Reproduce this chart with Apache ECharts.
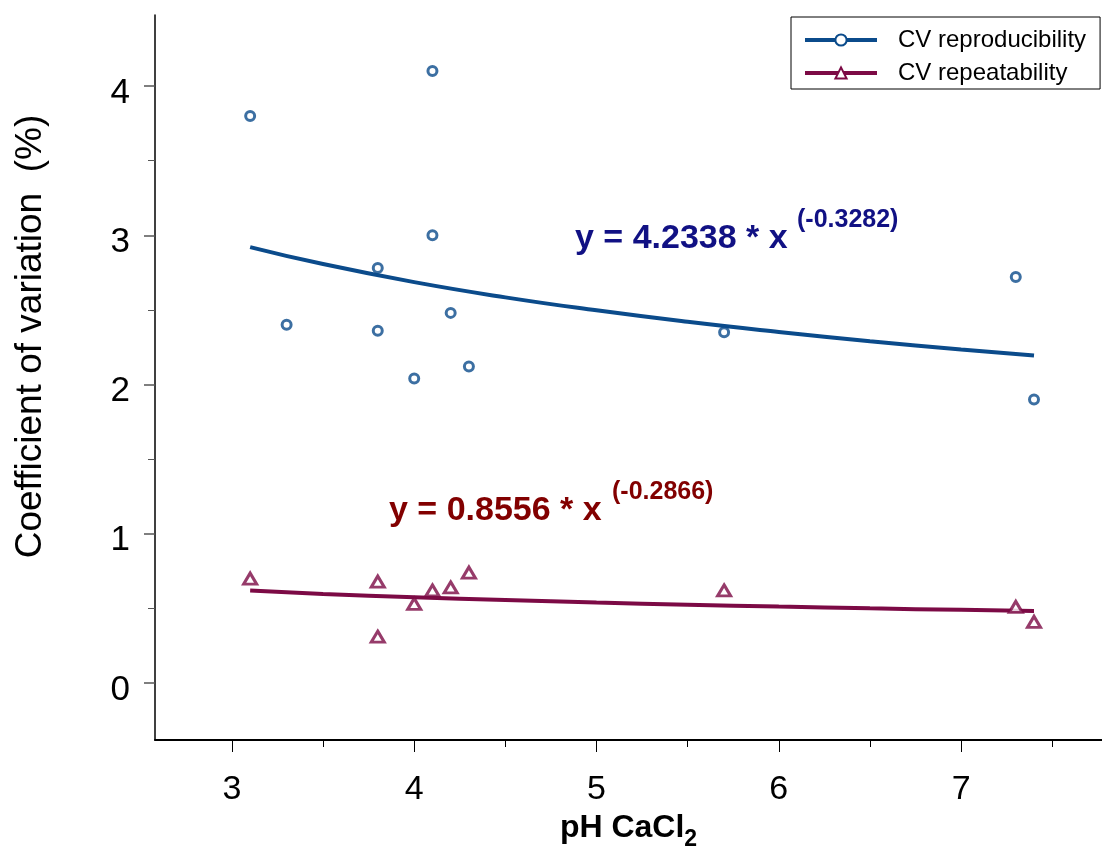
<!DOCTYPE html>
<html><head><meta charset="utf-8">
<script src="https://cdn.jsdelivr.net/npm/echarts@6/dist/echarts.min.js"></script>
<style>html,body{margin:0;padding:0;background:#fff;overflow:hidden}#c{width:1102px;height:849px}</style>
</head><body><div id="c"></div>
<script>
// Data
const phRepro = [3.1, 3.3, 3.8, 3.8, 4.0, 4.1, 4.1, 4.2, 4.3, 5.7, 7.3, 7.4];
const cvRepro = [3.80, 2.40, 2.78, 2.36, 2.04, 4.10, 3.00, 2.48, 2.12, 2.35, 2.72, 1.90];
const phRepeat = [3.1, 3.8, 3.8, 4.0, 4.1, 4.2, 4.3, 5.7, 7.3, 7.4];
const cvRepeat = [0.70, 0.68, 0.31, 0.53, 0.62, 0.64, 0.74, 0.62, 0.51, 0.41];
// fitted power curves (as drawn)
const fitX = [3.1, 3.5, 4.0, 4.5, 5.0, 5.5, 6.0, 6.5, 7.0, 7.4];
const fitRepro = [2.921, 2.807, 2.686, 2.584, 2.497, 2.420, 2.352, 2.290, 2.235, 2.195];
const fitRepeat = [0.619, 0.597, 0.575, 0.556, 0.539, 0.525, 0.512, 0.500, 0.490, 0.482];
const xMajor = [3, 4, 5, 6, 7];
const xMinor = [3.5, 4.5, 5.5, 6.5, 7.5];
const yMajor = [0, 1, 2, 3, 4];
const yMinor = [0.5, 1.5, 2.5, 3.5];
const seriesNames = ['CV reproducibility', 'CV repeatability'];
const eqRepro = ['y = 4.2338 * x', '(-0.3282)'];
const eqRepeat = ['y = 0.8556 * x', '(-0.2866)'];

const FONT = '"Liberation Sans", Arial, sans-serif';
const BLUE = '#0b4b8b';
const RED = '#7c0a45';
const EQ_BLUE = '#111184';
const EQ_RED = '#820000';
const X_MIN = 2.578, X_MAX = 7.773, Y_MIN = -0.382, Y_MAX = 4.476;

const zip = (a, b) => a.map((v, i) => [v, b[i]]);

const chart = echarts.init(document.getElementById('c'), null, {renderer: 'canvas', width: 1102, height: 849});

const baseX = {
  type: 'value', min: X_MIN, max: X_MAX, position: 'bottom',
  splitLine: {show: false}
};
const baseY = {
  type: 'value', min: Y_MIN, max: Y_MAX, position: 'left',
  splitLine: {show: false}
};

chart.setOption({
  animation: false,
  backgroundColor: '#fff',
  textStyle: {fontFamily: FONT},
  grid: {left: 155, width: 947, top: 15, height: 725, containLabel: false, outerBoundsMode: 'none'},
  legend: {
    orient: 'vertical', left: 791, top: 17,
    data: seriesNames,
    borderColor: '#000', borderWidth: 1, borderRadius: 0,
    padding: [11, 14, 4, 12],
    itemWidth: 72, itemHeight: 14, itemGap: 9,
    lineStyle: {width: 4},
    textStyle: {fontFamily: FONT, fontSize: 24, color: '#000', padding: [0, 0, 0, 16]}
  },
  xAxis: [
    Object.assign({}, baseX, {
      axisLine: {show: true, onZero: false, lineStyle: {color: '#000', width: 2}},
      axisTick: {show: true, customValues: xMajor, length: 12, lineStyle: {color: '#000', width: 1}},
      axisLabel: {customValues: xMajor, fontSize: 34, color: '#000', margin: 33, fontFamily: FONT},
      name: '{a|pH CaCl}{b|2}',
      nameLocation: 'middle', nameGap: 72,
      nameTextStyle: {
        rich: {
          a: {fontFamily: FONT, fontSize: 32, fontWeight: 'bold', color: '#000', lineHeight: 34, verticalAlign: 'top'},
          b: {fontFamily: FONT, fontSize: 23, fontWeight: 'bold', color: '#000', lineHeight: 24, padding: [16, 0, 0, 0], verticalAlign: 'top'}
        }
      }
    }),
    Object.assign({}, baseX, {
      axisLine: {show: false, onZero: false},
      axisTick: {show: true, customValues: xMinor, length: 7, lineStyle: {color: '#000', width: 1}},
      axisLabel: {show: false}
    })
  ],
  yAxis: [
    Object.assign({}, baseY, {
      axisLine: {show: true, onZero: false, lineStyle: {color: '#000', width: 1.5}},
      axisTick: {show: true, customValues: yMajor, length: 11, lineStyle: {color: '#555', width: 1.5}},
      axisLabel: {
        customValues: yMajor, margin: 25, formatter: '{v|{value}}',
        rich: {v: {fontFamily: FONT, fontSize: 35, color: '#000', padding: [14, 0, 0, 0]}}
      },
      name: 'Coefficient of variation  (%)',
      nameLocation: 'middle', nameGap: 106,
      nameTextStyle: {fontFamily: FONT, fontSize: 37, color: '#000', padding: [0, 0, 0, 82]}
    }),
    Object.assign({}, baseY, {
      axisLine: {show: false, onZero: false},
      axisTick: {show: true, customValues: yMinor, length: 7, lineStyle: {color: '#555', width: 1}},
      axisLabel: {show: false}
    })
  ],
  series: [
    {
      name: seriesNames[0], type: 'line', smooth: true,
      data: zip(fitX, fitRepro),
      symbol: 'circle', symbolSize: 11, showSymbol: false,
      lineStyle: {color: BLUE, width: 4},
      itemStyle: {color: '#fff', borderColor: BLUE, borderWidth: 3},
      z: 3
    },
    {
      name: seriesNames[1], type: 'line', smooth: true,
      data: zip(fitX, fitRepeat),
      symbol: 'triangle', symbolSize: 12, showSymbol: false,
      lineStyle: {color: RED, width: 4},
      itemStyle: {color: '#fff', borderColor: RED, borderWidth: 3},
      z: 3
    },
    {
      name: seriesNames[0], type: 'scatter',
      data: zip(phRepro, cvRepro),
      symbol: 'circle', symbolSize: 9,
      itemStyle: {color: '#fff', borderColor: BLUE, borderWidth: 3},
      z: 4
    },
    {
      name: seriesNames[1], type: 'scatter',
      data: zip(phRepeat, cvRepeat),
      symbol: 'triangle', symbolSize: [13, 11],
      itemStyle: {color: '#fff', borderColor: RED, borderWidth: 3},
      z: 4
    }
  ],
  graphic: [
    {type: 'text', left: 575, top: 222, style: {text: eqRepro[0], fontFamily: FONT, fontSize: 34, fontWeight: 'bold', fill: EQ_BLUE}},
    {type: 'text', left: 797, top: 208, style: {text: eqRepro[1], fontFamily: FONT, fontSize: 25, fontWeight: 'bold', fill: EQ_BLUE}},
    {type: 'text', left: 389, top: 494, style: {text: eqRepeat[0], fontFamily: FONT, fontSize: 34, fontWeight: 'bold', fill: EQ_RED}},
    {type: 'text', left: 612, top: 480, style: {text: eqRepeat[1], fontFamily: FONT, fontSize: 25, fontWeight: 'bold', fill: EQ_RED}}
  ]
});
</script>
</body></html>
